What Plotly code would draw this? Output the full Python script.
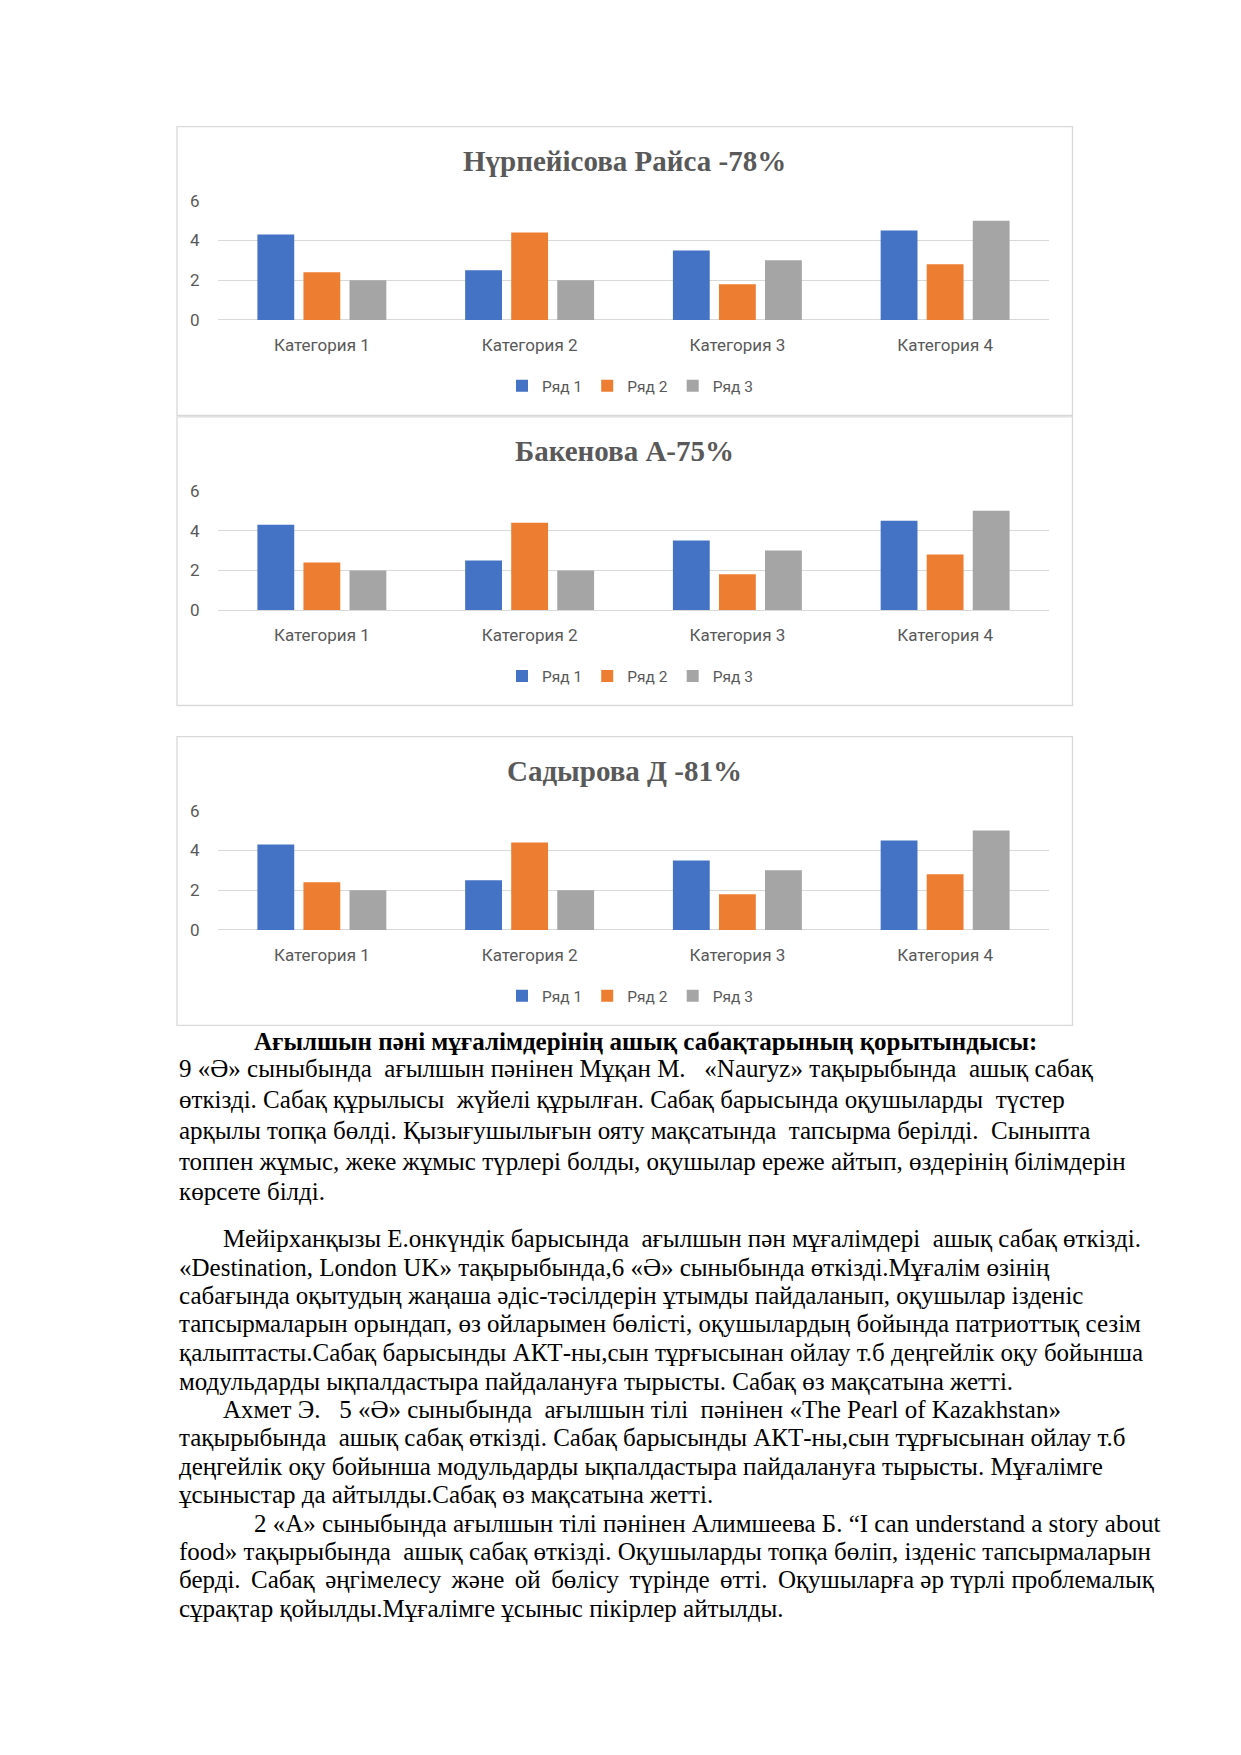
import plotly.graph_objects as go

# ---------------- data ----------------
categories = ["Категория 1", "Категория 2", "Категория 3", "Категория 4"]
series_names = ["Ряд 1", "Ряд 2", "Ряд 3"]
series1 = [4.3, 2.5, 3.5, 4.5]
series2 = [2.4, 4.4, 1.8, 2.8]
series3 = [2, 2, 3, 5]
y_ticks = [0, 2, 4, 6]
chart_titles = ["Нүрпейісова Райса -78%", "Бакенова А-75%", "Садырова Д -81%"]

heading = "Ағылшын пәні мұғалімдерінің ашық сабақтарының қорытындысы:"
paragraphs = [
    ["9 «Ә» сыныбында  ағылшын пәнінен Мұқан М.   «Nauryz» тақырыбында  ашық сабақ",
     "өткізді. Сабақ құрылысы  жүйелі құрылған. Сабақ барысында оқушыларды  түстер",
     "арқылы топқа бөлді. Қызығушылығын ояту мақсатында  тапсырма берілді.  Сыныпта",
     "топпен жұмыс, жеке жұмыс түрлері болды, оқушылар ереже айтып, өздерінің білімдерін",
     "көрсете білді."],
    ["Мейірханқызы Е.онкүндік барысында  ағылшын пән мұғалімдері  ашық сабақ өткізді.",
     "«Destination, London UK» тақырыбында,6 «Ә» сыныбында өткізді.Мұғалім өзінің",
     "сабағында оқытудың жаңаша әдіс-тәсілдерін ұтымды пайдаланып, оқушылар ізденіс",
     "тапсырмаларын орындап, өз ойларымен бөлісті, оқушылардың бойында патриоттық сезім",
     "қалыптасты.Сабақ барысынды АКТ-ны,сын тұрғысынан ойлау т.б деңгейлік оқу бойынша",
     "модульдарды ықпалдастыра пайдалануға тырысты. Сабақ өз мақсатына жетті."],
    ["Ахмет Э.   5 «Ә» сыныбында  ағылшын тілі  пәнінен «The Pearl of Kazakhstan»",
     "тақырыбында  ашық сабақ өткізді. Сабақ барысынды АКТ-ны,сын тұрғысынан ойлау т.б",
     "деңгейлік оқу бойынша модульдарды ықпалдастыра пайдалануға тырысты. Мұғалімге",
     "ұсыныстар да айтылды.Сабақ өз мақсатына жетті."],
    ["2 «А» сыныбында ағылшын тілі пәнінен Алимшеева Б. “I can understand a story about",
     "food» тақырыбында  ашық сабақ өткізді. Оқушыларды топқа бөліп, ізденіс тапсырмаларын",
     "берді. Сабақ әңгімелесу және ой бөлісу түрінде өтті. Оқушыларға әр түрлі проблемалық",
     "сұрақтар қойылды.Мұғалімге ұсыныс пікірлер айтылды."],
]
# justified lines: (paragraph, line) -> number of word gaps that get a six-per-em space
justify_gaps = {(3, 2): 8}

# ---------------- layout constants (page pixels) ----------------
W, H = 1241, 1755
colors = ["#4472C4", "#ED7D31", "#A5A5A5"]
chart_tops = [118, 411.5, 735]   # top of each chart frame
box_h = 292
box_x0, box_x1 = 177, 1072.5
plot_x0, plot_x1 = 218, 1049


def px_y(y):
    return 1 - y / H


def px_x(x):
    return x / W


fig = go.Figure()
series = [series1, series2, series3]
shapes = []
annotations = []
layout_extra = {}

for ci, top in enumerate(chart_tops):
    idx = "" if ci == 0 else str(ci + 1)
    leg = "legend" + idx
    for si in range(3):
        fig.add_trace(go.Bar(
            x=categories, y=series[si], name=series_names[si],
            marker=dict(color=colors[si], line=dict(width=0)),
            xaxis="x" + idx, yaxis="y" + idx, legend=leg,
            hoverinfo="skip",
        ))
    g_top = top + 75
    g_bot = top + 195.5
    layout_extra["xaxis" + idx] = dict(
        domain=[px_x(plot_x0), px_x(plot_x1)], anchor="y" + idx,
        showgrid=False, zeroline=False, showline=False,
        ticks="outside", ticklen=10, tickcolor="rgba(0,0,0,0)",
        tickfont=dict(family="Roboto", size=17, color="#595959"),
        fixedrange=True,
    )
    layout_extra["yaxis" + idx] = dict(
        domain=[px_y(g_bot), px_y(g_top)], anchor="x" + idx,
        range=[0, 6], tickvals=y_ticks,
        showgrid=True, gridcolor="#D9D9D9", gridwidth=1.3,
        zeroline=True, zerolinecolor="#D9D9D9", zerolinewidth=1.3,
        showline=False,
        ticks="outside", ticklen=14, tickcolor="rgba(0,0,0,0)",
        tickfont=dict(family="Roboto", size=17, color="#595959"),
        fixedrange=True,
    )
    layout_extra[leg] = dict(
        orientation="h", x=px_x(630), xanchor="center",
        y=px_y(top + 262.5), yanchor="middle",
        font=dict(family="Roboto", size=15.5, color="#595959"),
        itemwidth=30, tracegroupgap=0,
        bgcolor="rgba(0,0,0,0)", traceorder="normal",
        itemclick=False, itemdoubleclick=False,
    )
    shapes.append(dict(
        type="rect", xref="paper", yref="paper",
        x0=px_x(box_x0), x1=px_x(box_x1), y0=px_y(top), y1=px_y(top + box_h),
        line=dict(color="#D9D9D9", width=1.3), fillcolor="rgba(0,0,0,0)",
        layer="below",
    ))
    annotations.append(dict(
        text="<b>" + chart_titles[ci] + "</b>", xref="paper", yref="paper",
        x=px_x((box_x0 + box_x1) / 2), y=px_y(top + 34.5),
        xanchor="center", yanchor="middle", showarrow=False,
        font=dict(family="Liberation Serif", size=29, color="#595959"),
    ))

# ---------------- body text ----------------
def fix_spaces(s, n_fill=0):
    parts = s.split(" ")
    out = parts[0]
    filled = 0
    for p in parts[1:]:
        sep = " "
        if p and filled < n_fill:
            sep = " \u2006"
            filled += 1
        out += sep + p
    return out.replace("  ", " \u00a0")

body_font = dict(family="Liberation Serif", size=25, color="#000000")
annotations.append(dict(
    text="<b>" + heading + "</b>", xref="paper", yref="paper",
    x=px_x(252), y=px_y(1043), xanchor="left", yanchor="middle",
    showarrow=False, font=body_font,
))

para_y = [
    [1071, 1102, 1133.5, 1164.5, 1195.5],
    [1243, 1272, 1300.5, 1329, 1358, 1387],
    [1415.5, 1444, 1473, 1501.5],
    [1530.5, 1559.5, 1587.5, 1616.5],
]
para_first_x = [177, 221, 221, 252]
for pi, lines in enumerate(paragraphs):
    for li, line in enumerate(lines):
        x = para_first_x[pi] if li == 0 else 177
        annotations.append(dict(
            text=fix_spaces(line, justify_gaps.get((pi, li), 0)),
            xref="paper", yref="paper",
            x=px_x(x), y=px_y(para_y[pi][li]), xanchor="left", yanchor="middle",
            showarrow=False, font=body_font,
        ))

fig.update_layout(
    width=W, height=H,
    margin=dict(l=0, r=0, t=0, b=0),
    paper_bgcolor="white", plot_bgcolor="white",
    barmode="group", bargap=0.335, bargroupgap=0.2,
    showlegend=True,
    shapes=shapes, annotations=annotations,
    **layout_extra,
)

# remove the default page margin so the figure sits at the page origin
page_css = ("document.body.style.margin='0px';"
            "document.body.style.padding='0px';"
            "document.documentElement.style.margin='0px';")
fig.write_html("out.html", config=dict(displayModeBar=False), post_script=page_css)
